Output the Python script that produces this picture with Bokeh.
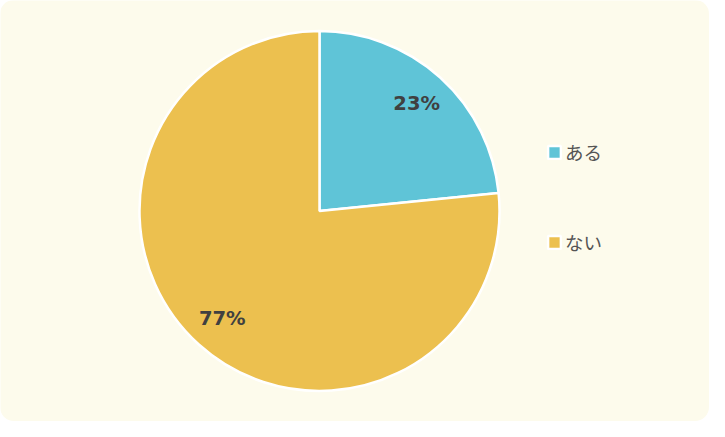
import numpy as np
from bokeh.plotting import figure
from bokeh.models import Range1d, ColumnDataSource, Legend, LegendItem
from bokeh.core.properties import value
from bokeh.embed import file_html
from bokeh.resources import INLINE

categories = ["ある", "ない"]
values = [23.4, 76.6]
colors = ["#5fc4d7", "#ecc04f"]

W, H = 709, 421
cx, cy, R = 319, H - 210.5, 180

fr = np.array(values) / sum(values)
ends_cum = np.cumsum(fr)
starts_cum = ends_cum - fr
start_angle = np.pi / 2 - 2 * np.pi * starts_cum
end_angle = np.pi / 2 - 2 * np.pi * ends_cum
mid = (start_angle + end_angle) / 2
labels = [f"{round(v)}%" for v in fr * 100]

source = ColumnDataSource(dict(
    cat=categories, val=values, start=start_angle, end=end_angle, color=colors,
    lx=cx + 0.805 * R * np.cos(mid), ly=cy + 0.805 * R * np.sin(mid), label=labels))

p = figure(width=W, height=H, x_range=Range1d(0, W), y_range=Range1d(0, H),
           output_backend="svg", toolbar_location=None, min_border=0,
           x_axis_location=None, y_axis_location=None)
p.grid.visible = False
p.outline_line_color = None
p.background_fill_color = "#fdfbec"
p.border_fill_color = "#fdfbec"
p.styles = {"border-radius": "14px", "overflow": "hidden"}

r = p.wedge(x=cx, y=cy, radius=R, start_angle="start", end_angle="end",
            direction="clock", fill_color="color", line_color="white",
            line_width=2.5, source=source)

p.text(x="lx", y="ly", text="label", text_align="center", text_baseline="middle",
       text_font=value("DejaVu Sans"), text_font_style="bold", text_font_size="19.5px",
       text_color="#404040", source=source)

legend = Legend(items=[LegendItem(label=c, renderers=[r], index=i) for i, c in enumerate(categories)],
                location=(546, 166), orientation="vertical", spacing=64, padding=0, margin=0,
                glyph_width=16, glyph_height=16, label_standoff=3, label_height=20,
                label_text_font="Noto Sans CJK JP", label_text_font_size="18.5px",
                label_text_color="#555555", border_line_color=None, background_fill_alpha=0)
p.add_layout(legend)

open("out.html", "w").write(file_html(p, INLINE))
